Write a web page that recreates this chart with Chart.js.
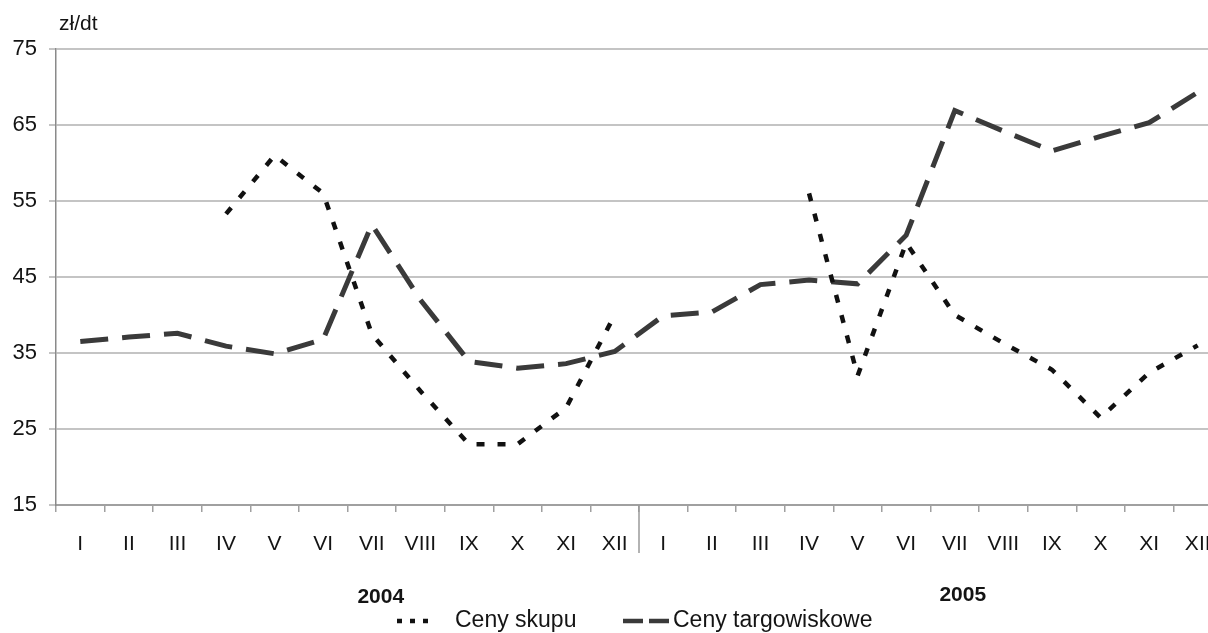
<!DOCTYPE html>
<html lang="pl">
<head>
<meta charset="utf-8">
<title>Ceny skupu i ceny targowiskowe</title>
<script src="https://cdn.jsdelivr.net/npm/chart.js@4/dist/chart.umd.min.js"></script>
<style>
    html, body { margin: 0; padding: 0; background: #fff; overflow: hidden; }
    #wrap { width: 1208px; height: 633px; overflow: hidden; }
</style>
</head>
<body>
<div id="wrap"><canvas id="priceChart" width="1240" height="633"></canvas></div>
<script>
// months of two years, roman numerals as in the source
const months = ['I', 'II', 'III', 'IV', 'V', 'VI', 'VII', 'VIII', 'IX', 'X', 'XI', 'XII'];
const years = ['2004', '2005'];
const categories = months.concat(months);

// zł/dt
const cenySkupu = [null, null, null, 53.3, 61, 56, 37.5, 30, 23, 23, 27.8, 40,
                   null, null, null, 56, 32, 49.5, 40, 36.3, 32.8, 26.5, 32.4, 36];
const cenyTargowiskowe = [36.5, 37.1, 37.6, 35.9, 34.9, 36.8, 51.9, 42, 33.9, 33, 33.6, 35.2,
                          39.9, 40.4, 44, 44.6, 44.1, 50.5, 66.9, 64.2, 61.6, 63.5, 65.3, 69.3];

const yTicks = [15, 25, 35, 45, 55, 65, 75];

const FONT = '"Liberation Sans", Arial, sans-serif';
const TEXT = '#141414';

// unit label, year labels, year separator and the legend
const extras = {
    id: 'extras',
    afterDraw(chart) {
        const { ctx, scales: { x } } = chart;
        const bottom = chart.chartArea.bottom;
        ctx.save();

        // separator between the two years
        const sepX = (x.getPixelForValue(11) + x.getPixelForValue(12)) / 2;
        ctx.strokeStyle = '#9a9a9a';
        ctx.lineWidth = 1.5;
        ctx.beginPath();
        ctx.moveTo(sepX, bottom);
        ctx.lineTo(sepX, bottom + 48);
        ctx.stroke();

        ctx.fillStyle = TEXT;
        ctx.textBaseline = 'middle';

        ctx.font = '21px ' + FONT;
        ctx.textAlign = 'left';
        ctx.fillText('zł/dt', 59, 24);

        ctx.font = 'bold 21px ' + FONT;
        ctx.textAlign = 'center';
        ctx.fillText(years[0], x.getPixelForValue(6) + 9, 597);
        ctx.fillText(years[1], x.getPixelForValue(18) + 8, 595);

        // legend
        const ly = 621;
        ctx.lineWidth = 4.5;
        ctx.strokeStyle = '#111';
        ctx.setLineDash([5, 8]);
        ctx.beginPath();
        ctx.moveTo(397, ly);
        ctx.lineTo(431, ly);
        ctx.stroke();

        ctx.strokeStyle = '#3a3a3a';
        ctx.setLineDash([20, 6]);
        ctx.beginPath();
        ctx.moveTo(623, ly);
        ctx.lineTo(669, ly);
        ctx.stroke();
        ctx.setLineDash([]);

        ctx.font = '23px ' + FONT;
        ctx.textAlign = 'left';
        ctx.fillText('Ceny skupu', 455, ly);
        ctx.fillText('Ceny targowiskowe', 673, ly);

        ctx.restore();
    }
};

document.addEventListener('DOMContentLoaded', () => {
    const ctx = document.getElementById('priceChart');
    renderChart(ctx);
});

function renderChart(ctx) {
    new Chart(ctx, {
        type: 'line',
        data: {
            labels: categories,
            datasets: [
                {
                    label: 'Ceny skupu',
                    data: cenySkupu,
                    borderColor: '#111',
                    borderWidth: 4.5,
                    borderDash: [8, 13],
                    borderCapStyle: 'butt',
                    pointRadius: 0,
                    tension: 0,
                    spanGaps: false,
                    fill: false
                },
                {
                    label: 'Ceny targowiskowe',
                    data: cenyTargowiskowe,
                    borderColor: '#3a3a3a',
                    borderWidth: 5,
                    borderDash: [28, 14],
                    borderCapStyle: 'butt',
                    pointRadius: 0,
                    tension: 0,
                    fill: false
                }
            ]
        },
        options: {
            responsive: false,
            animation: false,
            devicePixelRatio: 1,
            layout: { padding: { top: 49, right: 18, bottom: 73, left: 0 } },
            plugins: {
                legend: { display: false },
                title: { display: false },
                tooltip: { enabled: false }
            },
            scales: {
                x: {
                    offset: true,
                    grid: {
                        offset: true,
                        drawOnChartArea: false,
                        drawTicks: true,
                        tickLength: 7,
                        color: '#a0a0a0',
                        lineWidth: 1.5
                    },
                    border: { color: '#a0a0a0', width: 2 },
                    ticks: {
                        color: TEXT,
                        font: { family: FONT, size: 21 },
                        padding: 20,
                        autoSkip: false,
                        maxRotation: 0
                    },
                    afterFit: s => { s.height = 55; }
                },
                y: {
                    min: yTicks[0],
                    max: yTicks[yTicks.length - 1],
                    afterBuildTicks: s => { s.ticks = yTicks.map(v => ({ value: v })); },
                    grid: {
                        color: '#c4c4c4',
                        lineWidth: 2,
                        drawTicks: true,
                        tickLength: 7
                    },
                    border: { color: '#8a8a8a', width: 1.5 },
                    ticks: {
                        color: TEXT,
                        font: { family: FONT, size: 22 },
                        padding: 12
                    },
                    afterFit: s => { s.width = 56; }
                }
            }
        },
        plugins: [extras]
    });
}
</script>
</body>
</html>
